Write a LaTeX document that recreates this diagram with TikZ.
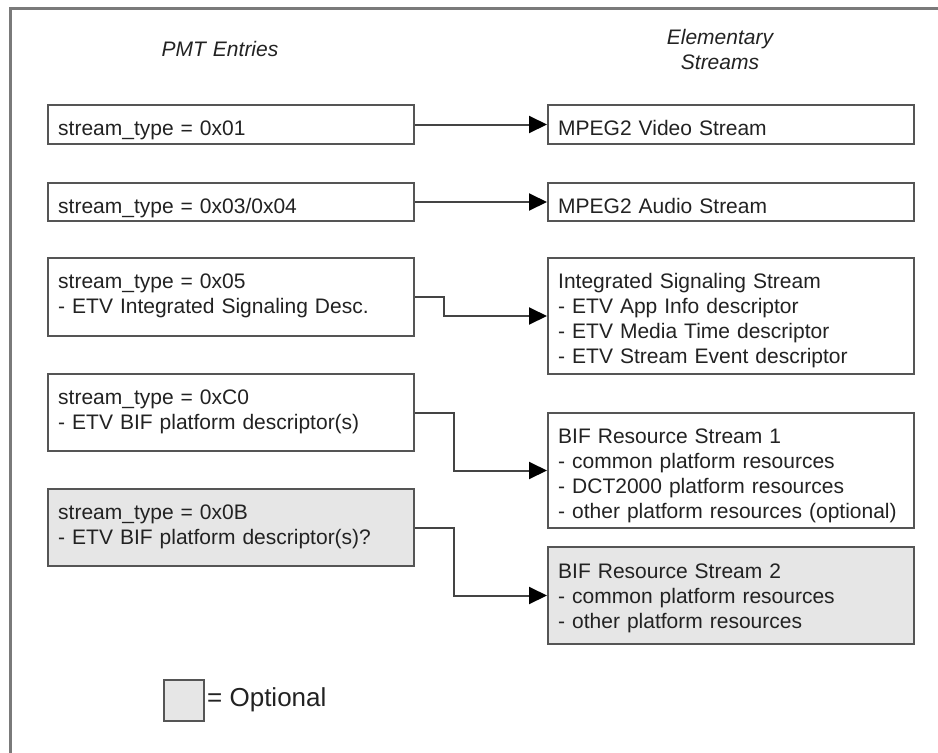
\documentclass[tikz,border=0pt]{standalone}
\usepackage{fontspec}
\setmainfont{Liberation Sans}
\usetikzlibrary{arrows.meta,calc}
\definecolor{framecol}{HTML}{7A7A7A}
\definecolor{boxline}{HTML}{555555}
\definecolor{linecol}{HTML}{444444}
\definecolor{optgray}{HTML}{E6E6E6}
\definecolor{textcol}{HTML}{222222}
\begin{document}
\begin{tikzpicture}[x=1pt,y=-1pt,
  box/.style={draw=boxline, line width=2pt, fill=white, inner sep=0pt,
    anchor=north west, minimum width=366pt},
  optbox/.style={box, fill=optgray},
  txt/.style={anchor=base west, inner sep=0pt, text width=350pt, align=left,
    font=\fontsize{21}{25}\selectfont, text=textcol},
  hdr/.style={anchor=base, inner sep=0pt, text width=200pt, align=center,
    font=\fontsize{21}{25}\selectfont\itshape, text=textcol},
  link/.style={draw=linecol, line width=2pt,
    -{Triangle[length=18pt,width=17pt,fill=black,color=black]}},
]
\useasboundingbox (0,0) rectangle (938,753);

% outer frame (only top and left edges lie inside the page)
\draw[framecol, line width=3pt] (10,753) -- (10,8) -- (938,8);

% column headings
\node[hdr] (hpmt) at (220,56) {PMT Entries};
\node[hdr] (hes) at (720,44) {Elementary\\Streams};

% PMT entries
\node[box, minimum height=39pt] (p1) at (47,104) {};
\node[box, minimum height=38pt] (p2) at (47,182) {};
\node[box, minimum height=78pt] (p3) at (47,257) {};
\node[box, minimum height=77pt] (p4) at (47,373) {};
\node[optbox, minimum height=77pt] (p5) at (47,488) {};

\node[txt] (p1t) at ($(p1.north west)+(11,31)$) {stream\_type = 0x01};
\node[txt] (p2t) at ($(p2.north west)+(11,31)$) {stream\_type = 0x03/0x04};
\node[txt] (p3t) at ($(p3.north west)+(11,31)$) {stream\_type = 0x05\\- ETV Integrated Signaling Desc.};
\node[txt] (p4t) at ($(p4.north west)+(11,31)$) {stream\_type = 0xC0\\- ETV BIF platform descriptor(s)};
\node[txt] (p5t) at ($(p5.north west)+(11,31)$) {stream\_type = 0x0B\\- ETV BIF platform descriptor(s)?};

% elementary streams
\node[box, minimum height=39pt] (e1) at (547,104) {};
\node[box, minimum height=38pt] (e2) at (547,182) {};
\node[box, minimum height=116pt] (e3) at (547,257) {};
\node[box, minimum height=115pt] (e4) at (547,412) {};
\node[optbox, minimum height=97pt] (e5) at (547,546) {};

\node[txt] (e1t) at ($(e1.north west)+(11,31)$) {MPEG2 Video Stream};
\node[txt] (e2t) at ($(e2.north west)+(11,31)$) {MPEG2 Audio Stream};
\node[txt] (e3t) at ($(e3.north west)+(11,31)$) {Integrated Signaling Stream\\- ETV App Info descriptor\\- ETV Media Time descriptor\\- ETV Stream Event descriptor};
\node[txt] (e4t) at ($(e4.north west)+(11,31)$) {BIF Resource Stream 1\\- common platform resources\\- DCT2000 platform resources\\- other platform resources (optional)};
\node[txt] (e5t) at ($(e5.north west)+(11,32)$) {BIF Resource Stream 2\\- common platform resources\\- other platform resources};

% connectors
\draw[link] (p1.east) -- (e1.west);
\draw[link] (p2.east) -- (e2.west);
\draw[link] (p3.east) -- ++(29,0) |- (e3.west);
\draw[link] (p4.east) -- ++(39,0) |- (e4.west);
\draw[link] (p5.east) -- ++(39,0) |- (e5.west);

% legend
\node[optbox, minimum width=40pt, minimum height=41pt] (leg) at (163,679) {};
\node[anchor=base west, inner sep=0pt, font=\fontsize{26}{30}\selectfont, text=textcol] (legt) at (207,706) {= Optional};
\end{tikzpicture}
\end{document}
